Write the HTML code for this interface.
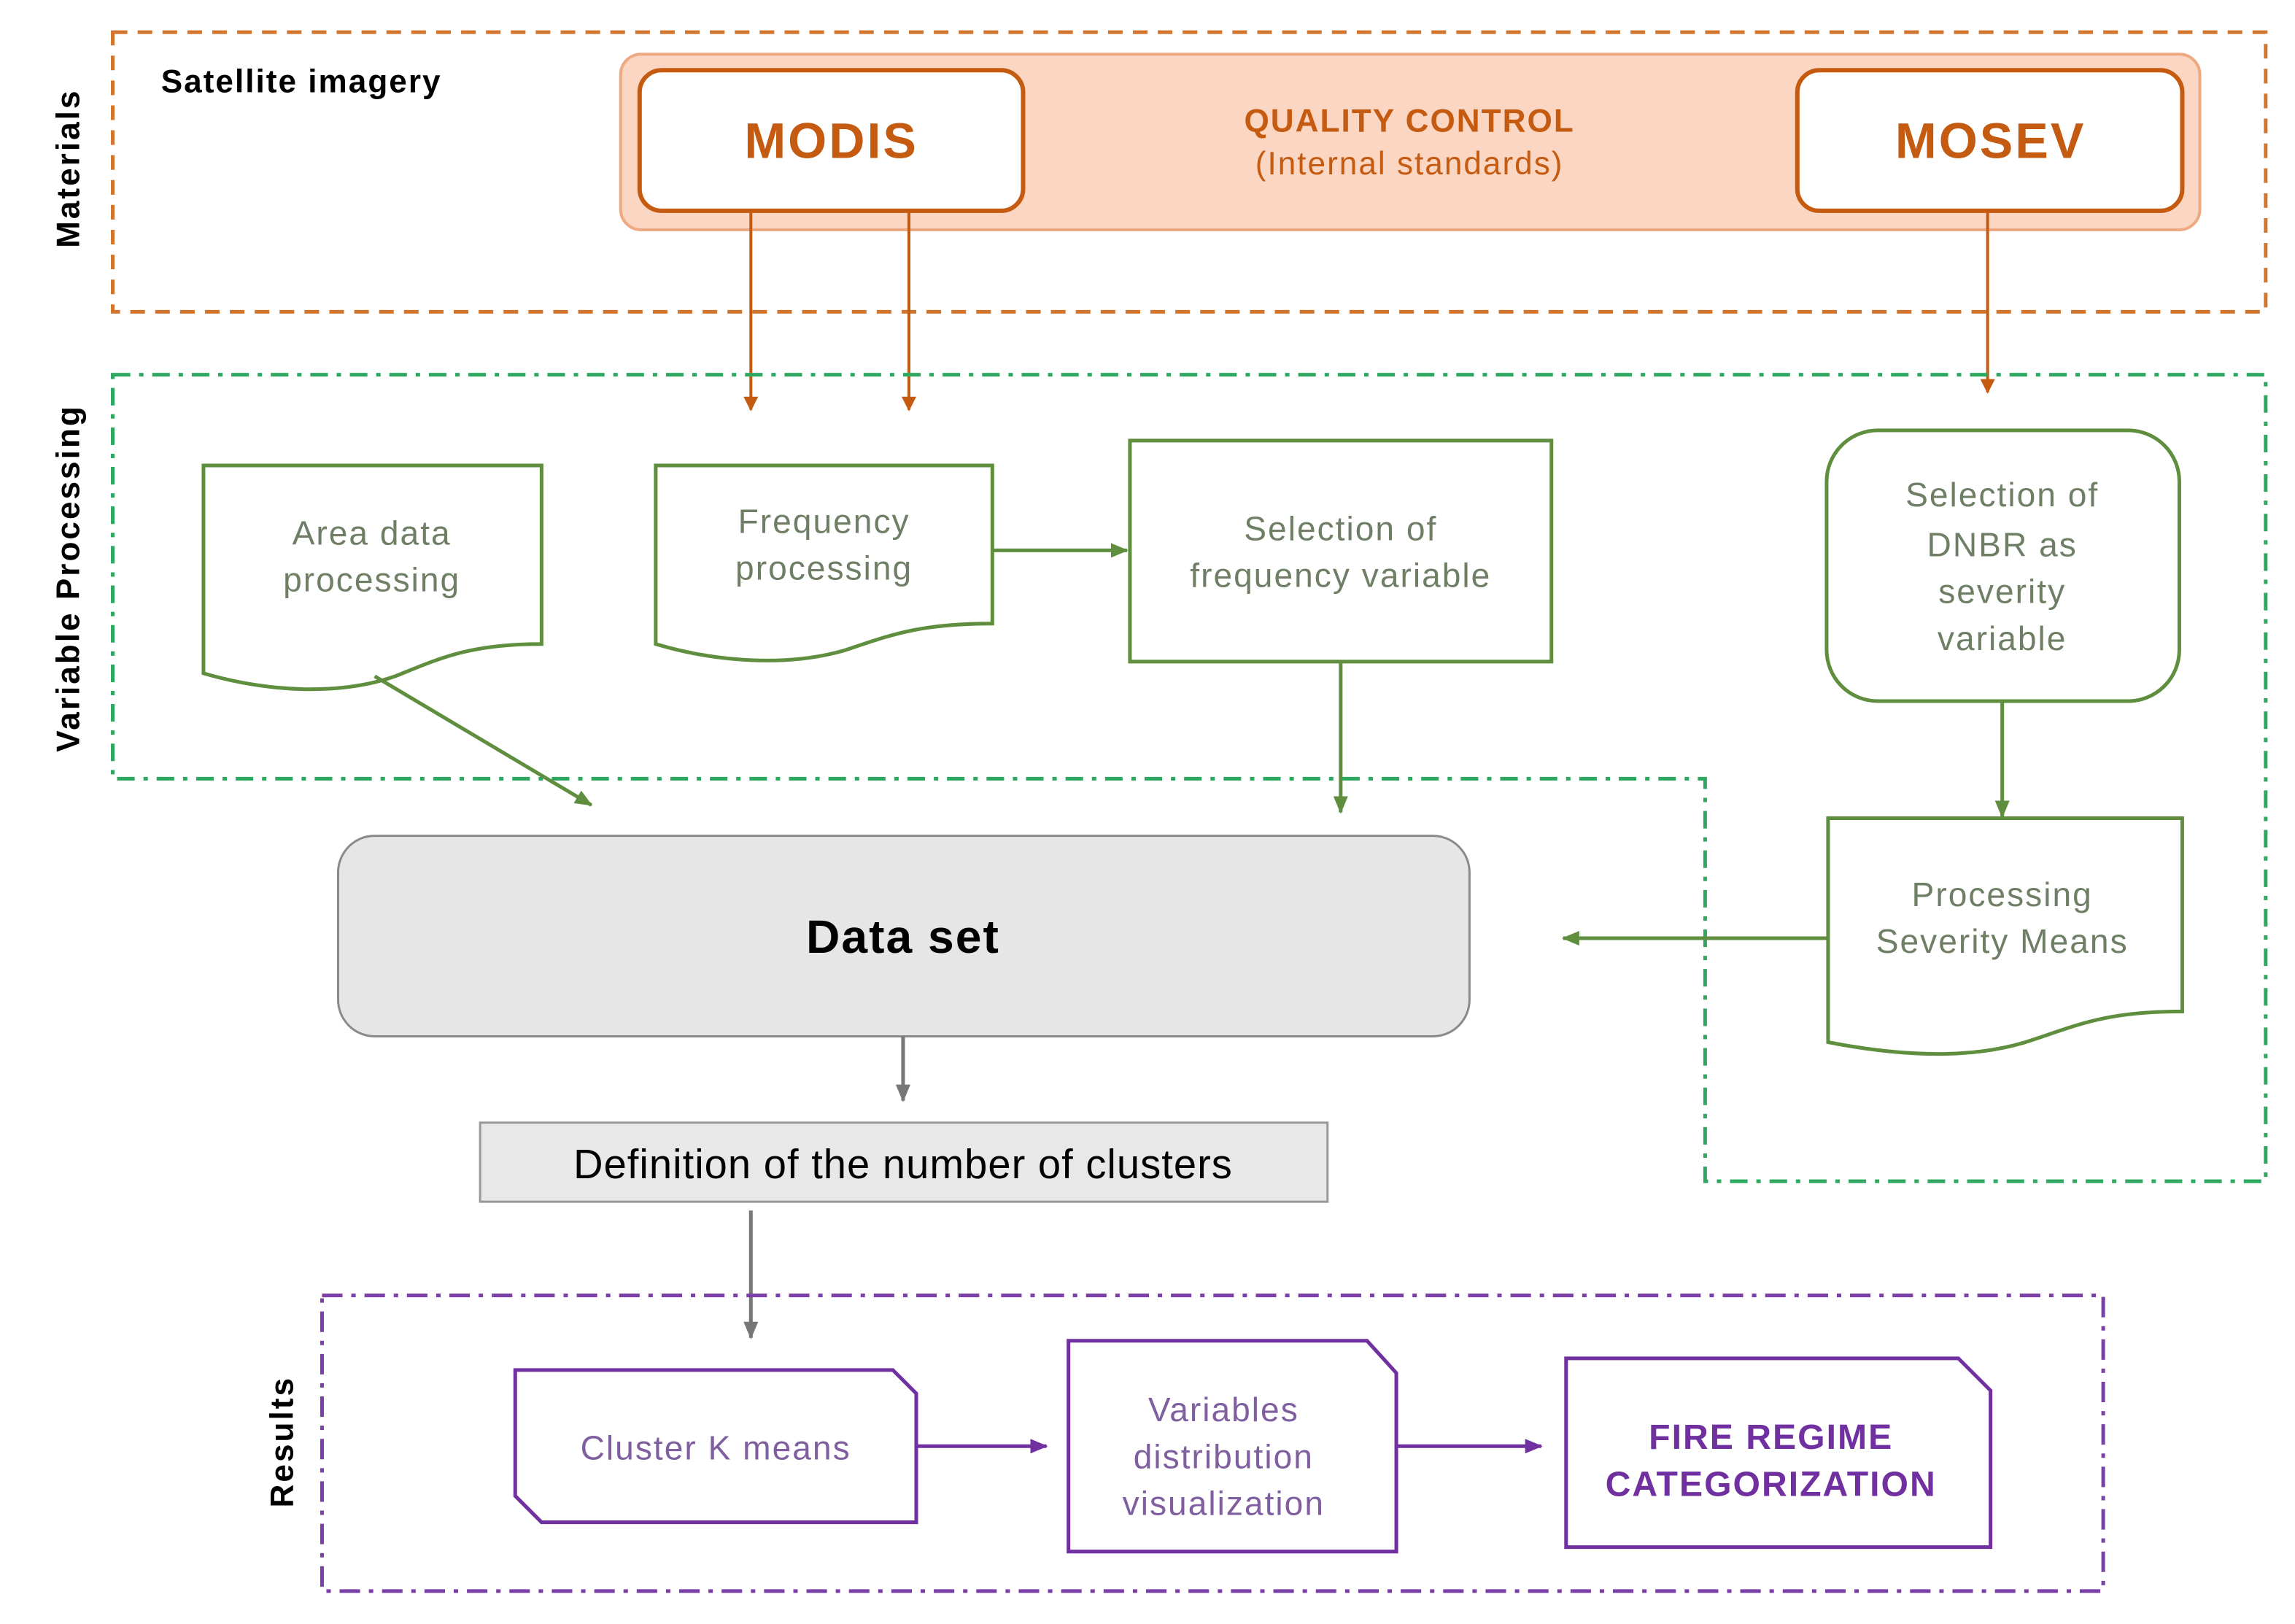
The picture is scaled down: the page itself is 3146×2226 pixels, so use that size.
<!DOCTYPE html>
<html><head><meta charset="utf-8"><style>
html,body{margin:0;padding:0;background:#fff;}
svg{display:block;}
text{font-family:"Liberation Sans",Arial,sans-serif;}
</style></head><body>
<svg width="3146" height="2226" viewBox="0 0 1568 1109.5" xmlns="http://www.w3.org/2000/svg">
<defs>
<marker id="ao" markerWidth="10" markerHeight="10" refX="9" refY="5" orient="auto" markerUnits="userSpaceOnUse"><path d="M0,0 L10,5 L0,10 z" fill="#c55a11"/></marker>
<marker id="ag" markerWidth="12" markerHeight="12" refX="11" refY="6" orient="auto" markerUnits="userSpaceOnUse"><path d="M0,1 L12,6 L0,11 z" fill="#5f8f3e"/></marker>
<marker id="agr" markerWidth="12" markerHeight="12" refX="11" refY="6" orient="auto" markerUnits="userSpaceOnUse"><path d="M0,1 L12,6 L0,11 z" fill="#777"/></marker>
<marker id="ap" markerWidth="12" markerHeight="12" refX="11" refY="6" orient="auto" markerUnits="userSpaceOnUse"><path d="M0,1 L12,6 L0,11 z" fill="#7030a0"/></marker>
</defs>

<!-- Materials -->
<rect x="77" y="22" width="1471" height="191" fill="none" stroke="#d2752e" stroke-width="2.5" stroke-dasharray="10,7"/>
<text transform="translate(54,115) rotate(-90)" text-anchor="middle" font-size="22" font-weight="bold" letter-spacing="1.5" fill="#000">Materials</text>
<text x="110" y="63" font-size="22" font-weight="bold" letter-spacing="1" fill="#000">Satellite imagery</text>
<rect x="424" y="37" width="1079" height="120" rx="14" fill="#fbd6c2" stroke="#eea882" stroke-width="2"/>
<rect x="437" y="48" width="262" height="96" rx="15" fill="#fff" stroke="#c55a11" stroke-width="3"/>
<text x="568" y="108" text-anchor="middle" font-size="34" font-weight="bold" letter-spacing="1.5" fill="#c55a11">MODIS</text>
<rect x="1228" y="48" width="263" height="96" rx="15" fill="#fff" stroke="#c55a11" stroke-width="3"/>
<text x="1360" y="108" text-anchor="middle" font-size="34" font-weight="bold" letter-spacing="1.5" fill="#c55a11">MOSEV</text>
<text x="963" y="90" text-anchor="middle" font-size="22" font-weight="bold" letter-spacing="1" fill="#c55a11">QUALITY CONTROL</text>
<text x="963" y="119" text-anchor="middle" font-size="22" letter-spacing="1" fill="#c55a11">(Internal standards)</text>
<line x1="513" y1="144" x2="513" y2="280" stroke="#c55a11" stroke-width="2" marker-end="url(#ao)"/>
<line x1="621" y1="144" x2="621" y2="280" stroke="#c55a11" stroke-width="2" marker-end="url(#ao)"/>
<line x1="1358" y1="144" x2="1358" y2="268" stroke="#c55a11" stroke-width="2" marker-end="url(#ao)"/>

<!-- Variable processing -->
<path d="M77,256 L1548,256 L1548,807 L1165,807 L1165,532 L77,532 Z" fill="none" stroke="#2ea860" stroke-width="2.5" stroke-dasharray="12,6,3,6"/>
<text transform="translate(54,395) rotate(-90)" text-anchor="middle" font-size="22" font-weight="bold" letter-spacing="1.5" fill="#000">Variable Processing</text>

<path d="M139,318 L370,318 L370,440 C320,440 300,450 270,462 C230,476 180,472 139,460 Z" fill="#fff" stroke="#5f8f3e" stroke-width="2.5"/>
<text x="254" y="372" text-anchor="middle" font-size="23" letter-spacing="1" fill="#6f7f66">Area data</text>
<text x="254" y="404" text-anchor="middle" font-size="23" letter-spacing="1" fill="#6f7f66">processing</text>

<path d="M448,318 L678,318 L678,426 C628,426 608,434 578,444 C538,456 488,452 448,440 Z" fill="#fff" stroke="#5f8f3e" stroke-width="2.5"/>
<text x="563" y="364" text-anchor="middle" font-size="23" letter-spacing="1" fill="#6f7f66">Frequency</text>
<text x="563" y="396" text-anchor="middle" font-size="23" letter-spacing="1" fill="#6f7f66">processing</text>

<rect x="772" y="301" width="288" height="151" fill="#fff" stroke="#5f8f3e" stroke-width="2.5"/>
<text x="916" y="369" text-anchor="middle" font-size="23" letter-spacing="1" fill="#6f7f66">Selection of</text>
<text x="916" y="401" text-anchor="middle" font-size="23" letter-spacing="1" fill="#6f7f66">frequency variable</text>

<rect x="1248" y="294" width="241" height="185" rx="35" fill="#fff" stroke="#5f8f3e" stroke-width="2.5"/>
<text x="1368" y="346" text-anchor="middle" font-size="23" letter-spacing="1" fill="#6f7f66">Selection of</text>
<text x="1368" y="380" text-anchor="middle" font-size="23" letter-spacing="1" fill="#6f7f66">DNBR as</text>
<text x="1368" y="412" text-anchor="middle" font-size="23" letter-spacing="1" fill="#6f7f66">severity</text>
<text x="1368" y="444" text-anchor="middle" font-size="23" letter-spacing="1" fill="#6f7f66">variable</text>

<path d="M1249,559 L1491,559 L1491,691 C1440,691 1420,700 1390,710 C1350,724 1300,722 1249,712 Z" fill="#fff" stroke="#5f8f3e" stroke-width="2.5"/>
<text x="1368" y="619" text-anchor="middle" font-size="23" letter-spacing="1" fill="#6f7f66">Processing</text>
<text x="1368" y="651" text-anchor="middle" font-size="23" letter-spacing="1" fill="#6f7f66">Severity Means</text>

<line x1="678" y1="376" x2="770" y2="376" stroke="#5f8f3e" stroke-width="2.5" marker-end="url(#ag)"/>
<line x1="916" y1="452" x2="916" y2="555" stroke="#5f8f3e" stroke-width="2.5" marker-end="url(#ag)"/>
<line x1="1368" y1="479" x2="1368" y2="558" stroke="#5f8f3e" stroke-width="2.5" marker-end="url(#ag)"/>
<line x1="1249" y1="641" x2="1068" y2="641" stroke="#5f8f3e" stroke-width="2.5" marker-end="url(#ag)"/>
<line x1="256" y1="462" x2="404" y2="550" stroke="#5f8f3e" stroke-width="2.5" marker-end="url(#ag)"/>

<!-- Data set -->
<rect x="231" y="571" width="773" height="137" rx="25" fill="#e6e6e6" stroke="#8a8a8a" stroke-width="1.5"/>
<text x="617" y="651" text-anchor="middle" font-size="32" font-weight="bold" letter-spacing="1" fill="#000">Data set</text>
<line x1="617" y1="708" x2="617" y2="752" stroke="#777" stroke-width="2.5" marker-end="url(#agr)"/>
<rect x="328" y="767" width="579" height="54" fill="#e8e8e8" stroke="#999" stroke-width="1.5"/>
<text x="617" y="805" text-anchor="middle" font-size="28" letter-spacing="0.5" fill="#000">Definition of the number of clusters</text>
<line x1="513" y1="827" x2="513" y2="914" stroke="#777" stroke-width="2.5" marker-end="url(#agr)"/>

<!-- Results -->
<rect x="220" y="885" width="1217" height="202" fill="none" stroke="#7b3fa8" stroke-width="2.5" stroke-dasharray="14,6,3,6"/>
<text transform="translate(200,985) rotate(-90)" text-anchor="middle" font-size="22" font-weight="bold" letter-spacing="1.5" fill="#000">Results</text>

<path d="M352,936 L610,936 L626,952 L626,1040 L370,1040 L352,1022 Z" fill="#fff" stroke="#7030a0" stroke-width="2.5"/>
<text x="489" y="997" text-anchor="middle" font-size="23" letter-spacing="1" fill="#7f5f9f">Cluster K means</text>
<path d="M730,916 L934,916 L954,938 L954,1060 L730,1060 Z" fill="#fff" stroke="#7030a0" stroke-width="2.5"/>
<text x="836" y="971" text-anchor="middle" font-size="23" letter-spacing="1" fill="#7f5f9f">Variables</text>
<text x="836" y="1003" text-anchor="middle" font-size="23" letter-spacing="1" fill="#7f5f9f">distribution</text>
<text x="836" y="1035" text-anchor="middle" font-size="23" letter-spacing="1" fill="#7f5f9f">visualization</text>
<path d="M1070,928 L1338,928 L1360,950 L1360,1057 L1070,1057 Z" fill="#fff" stroke="#7030a0" stroke-width="2.5"/>
<text x="1210" y="990" text-anchor="middle" font-size="24" font-weight="bold" letter-spacing="1" fill="#7030a0">FIRE REGIME</text>
<text x="1210" y="1022" text-anchor="middle" font-size="24" font-weight="bold" letter-spacing="1" fill="#7030a0">CATEGORIZATION</text>
<line x1="626" y1="988" x2="715" y2="988" stroke="#7030a0" stroke-width="2.5" marker-end="url(#ap)"/>
<line x1="954" y1="988" x2="1053" y2="988" stroke="#7030a0" stroke-width="2.5" marker-end="url(#ap)"/>
</svg>
</body></html>
